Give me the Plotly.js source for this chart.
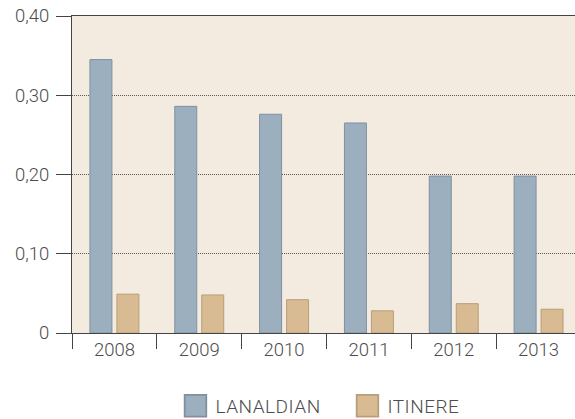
<!DOCTYPE html>
<html>
<head>
<meta charset="utf-8">
<script src="https://cdn.plot.ly/plotly-3.0.1.min.js"></script>
<style>
html,body{margin:0;padding:0;background:#ffffff;overflow:hidden;}
#chart{width:581px;height:419px;}
</style>
</head>
<body>
<div id="chart"></div>
<script>
var years = ["2008", "2009", "2010", "2011", "2012", "2013"];
var lanaldian = [0.345, 0.286, 0.276, 0.265, 0.198, 0.198];
var itinere = [0.049, 0.048, 0.042, 0.028, 0.037, 0.030];
var yTickVals = [0, 0.1, 0.2, 0.3, 0.4];
var yTickText = ["0", "0,10", "0,20", "0,30", "0,40"];

var font = {family: "Roboto, 'DejaVu Sans', sans-serif", size: 18.5, color: "#4d4d4d", weight: 300};
var legendFont = {family: "Roboto, 'DejaVu Sans', sans-serif", size: 19, color: "#4d4d4d", weight: 300};

var traces = [
  {type: "bar", name: "LANALDIAN", x: years, y: lanaldian,
   marker: {color: "#9cafbf", line: {color: "#7f909f", width: 1}}, hoverinfo: "none"},
  {type: "bar", name: "ITINERE", x: years, y: itinere,
   marker: {color: "#d8bb93", line: {color: "#b89e78", width: 1}}, hoverinfo: "none"}
];

var layout = {
  width: 581, height: 419,
  margin: {l: 72, r: 0, t: 16, b: 86, autoexpand: false},
  paper_bgcolor: "#ffffff",
  plot_bgcolor: "#f3ebe0",
  barmode: "group",
  bargap: 0.364,
  bargroupgap: 0.185,
  font: font,
  showlegend: true,
  legend: {orientation: "h", xref: "container", yref: "paper",
           x: 0.302, xanchor: "left", y: -0.17, yanchor: "top",
           font: legendFont, itemwidth: 30, entrywidth: 127, traceorder: "normal"},
  xaxis: {
    type: "category", tickson: "boundaries", ticks: "outside", ticklen: 15,
    tickcolor: "#444", tickwidth: 1,
    showline: true, linecolor: "#444", linewidth: 1, mirror: true,
    showgrid: false, tickfont: font, fixedrange: true
  },
  yaxis: {
    range: [0, 0.4], tickvals: yTickVals, ticktext: yTickText,
    ticks: "outside", ticklen: 15, tickcolor: "#444", tickwidth: 1,
    showline: true, linecolor: "#444", linewidth: 1,
    showgrid: true, gridcolor: "#555", gridwidth: 1, griddash: "1px,1px",
    zeroline: false, tickfont: font, ticklabelstandoff: 3, fixedrange: true
  }
};

Plotly.newPlot("chart", traces, layout, {displayModeBar: false, staticPlot: true}).then(function(gd){
  var pts = gd.querySelectorAll(".legend .legendpoints path");
  pts.forEach(function(p){
    var t = p.getAttribute("transform") || "";
    p.setAttribute("transform", t + " scale(1.8)");
  });
  gd.querySelectorAll(".legend text.legendtext").forEach(function(t){
    t.style.letterSpacing = "0.5px";
  });
});
</script>
</body>
</html>
